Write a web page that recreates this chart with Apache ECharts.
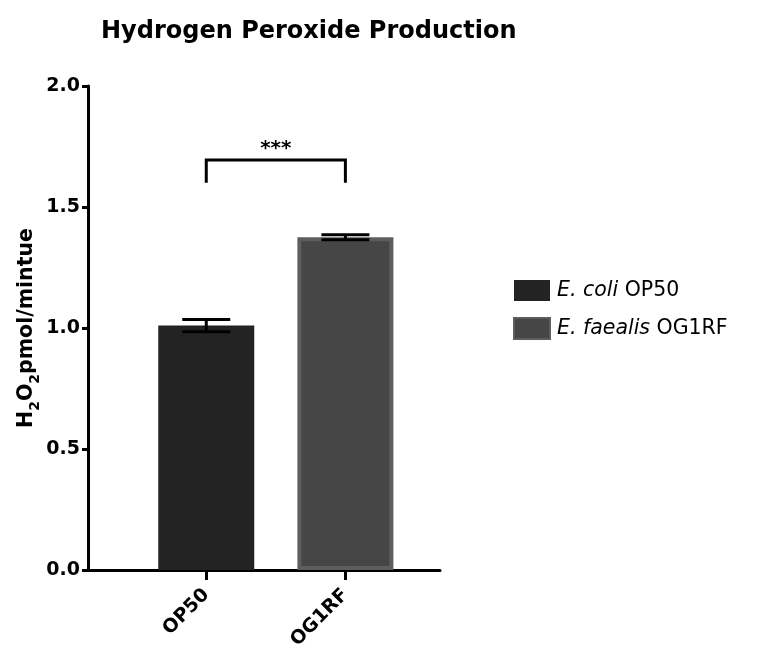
<!DOCTYPE html>
<html>
<head>
<meta charset="utf-8">
<script src="https://cdn.jsdelivr.net/npm/echarts@6/dist/echarts.min.js"></script>
<style>
  html, body { margin: 0; padding: 0; background: #fff; }
  #chart { width: 758px; height: 658px; }
</style>
</head>
<body>
<div id="chart"></div>
<script>
// values
const categories = ["OP50", "OG1RF"];
const seriesNames = ["E. coli OP50", "E. faealis OG1RF"];
const means = [1.01, 1.375];
const errors = [0.025, 0.01];
const yTicks = [0, 0.5, 1.0, 1.5, 2.0];
// significance bracket: [from, to, top, leg bottom], label
const bracket = [0, 1, 1.694, 1.6];
const bracketLabel = "***";

const font = "DejaVu Sans, Verdana, sans-serif";
const fills = ["#232323", "#464646"];
const borders = ["#232323", "#5e5e5e"];

const chart = echarts.init(document.getElementById("chart"));

const barSeries = seriesNames.map((name, i) => ({
  name: name,
  type: "bar",
  barWidth: 96,
  barGap: "-100%",
  data: [[i, means[i]]],
  itemStyle: {
    color: fills[i],
    borderColor: borders[i],
    borderWidth: i === 1 ? 4 : 0,
  },
  z: 2,
}));

const errorSeries = {
  type: "custom",
  data: means.map((m, i) => [i, m - errors[i], m + errors[i]]),
  renderItem: function (params, api) {
    const lo = api.coord([api.value(0), api.value(1)]);
    const hi = api.coord([api.value(0), api.value(2)]);
    const half = 24;
    const style = { stroke: "#000", lineWidth: 3 };
    return {
      type: "group",
      children: [
        { type: "line", shape: { x1: lo[0], y1: lo[1], x2: hi[0], y2: hi[1] }, style: style },
        { type: "line", shape: { x1: lo[0] - half, y1: lo[1], x2: lo[0] + half, y2: lo[1] }, style: style },
        { type: "line", shape: { x1: hi[0] - half, y1: hi[1], x2: hi[0] + half, y2: hi[1] }, style: style },
      ],
    };
  },
  z: 5,
};

const bracketSeries = {
  type: "custom",
  data: [bracket],
  renderItem: function (params, api) {
    const a = api.coord([api.value(0), api.value(3)]);
    const b = api.coord([api.value(0), api.value(2)]);
    const c = api.coord([api.value(1), api.value(2)]);
    const d = api.coord([api.value(1), api.value(3)]);
    return {
      type: "group",
      children: [
        {
          type: "polyline",
          shape: { points: [a, b, c, d] },
          style: { stroke: "#000", lineWidth: 3, fill: null, lineJoin: "miter" },
        },
        {
          type: "text",
          x: (b[0] + c[0]) / 2,
          y: b[1] - 1,
          style: {
            text: bracketLabel,
            fontSize: 20,
            fontWeight: "bold",
            fontFamily: font,
            fill: "#000",
            align: "center",
            verticalAlign: "bottom",
          },
        },
      ],
    };
  },
  z: 5,
};

chart.setOption({
  animation: false,
  backgroundColor: "#fff",
  title: {
    text: "Hydrogen Peroxide Production",
    left: 96,
    top: 15,
    textStyle: { fontSize: 24, fontWeight: "bold", color: "#000", fontFamily: font },
  },
  legend: {
    orient: "vertical",
    left: 508,
    top: 275,
    itemWidth: 36,
    itemHeight: 21,
    itemGap: 16,
    icon: "rect",
    data: seriesNames,
    formatter: function (name) {
      const k = name.indexOf(" O");
      return "{i|" + name.slice(0, k) + "}{n|" + name.slice(k) + "}";
    },
    textStyle: {
      fontFamily: font,
      padding: [0, 0, 0, 2],
      rich: {
        i: { fontSize: 20.5, fontStyle: "italic", color: "#000", fontFamily: font },
        n: { fontSize: 20.5, color: "#000", fontFamily: font },
      },
    },
  },
  grid: { left: 88, right: 318, top: 86, bottom: 88, containLabel: false },
  xAxis: {
    type: "value",
    min: -0.85,
    max: 1.68,
    splitLine: { show: false },
    axisLine: { show: true, onZero: false, lineStyle: { color: "#000", width: 3 } },
    axisTick: { show: true, length: 10, customValues: [0, 1], lineStyle: { color: "#000", width: 3 } },
    axisLabel: {
      customValues: [0, 1],
      rotate: 45,
      margin: 22,
      fontSize: 19,
      fontWeight: "bold",
      color: "#000",
      fontFamily: font,
      formatter: function (v) { return categories[Math.round(v)]; },
    },
  },
  yAxis: {
    type: "value",
    min: 0,
    max: 2,
    interval: 0.5,
    splitLine: { show: false },
    name: "{n|H}{s|2}{n|O}{s|2}{n|pmol/mintue}",
    nameLocation: "middle",
    nameGap: 46,
    nameTextStyle: {
      fontFamily: font,
      rich: {
        n: { fontSize: 20.5, fontWeight: "bold", color: "#000", fontFamily: font, lineHeight: 23, verticalAlign: "top" },
        s: { fontSize: 14, fontWeight: "bold", color: "#000", fontFamily: font, lineHeight: 26, verticalAlign: "bottom" },
      },
    },
    axisLine: { show: true, onZero: false, lineStyle: { color: "#000", width: 3 } },
    axisTick: { show: true, length: 6, lineStyle: { color: "#000", width: 3 } },
    axisLabel: {
      fontSize: 19,
      fontWeight: "bold",
      color: "#000",
      margin: 8,
      fontFamily: font,
      customValues: yTicks,
      formatter: function (v) { return v.toFixed(1); },
    },
  },
  series: [...barSeries, errorSeries, bracketSeries],
});
</script>
</body>
</html>
